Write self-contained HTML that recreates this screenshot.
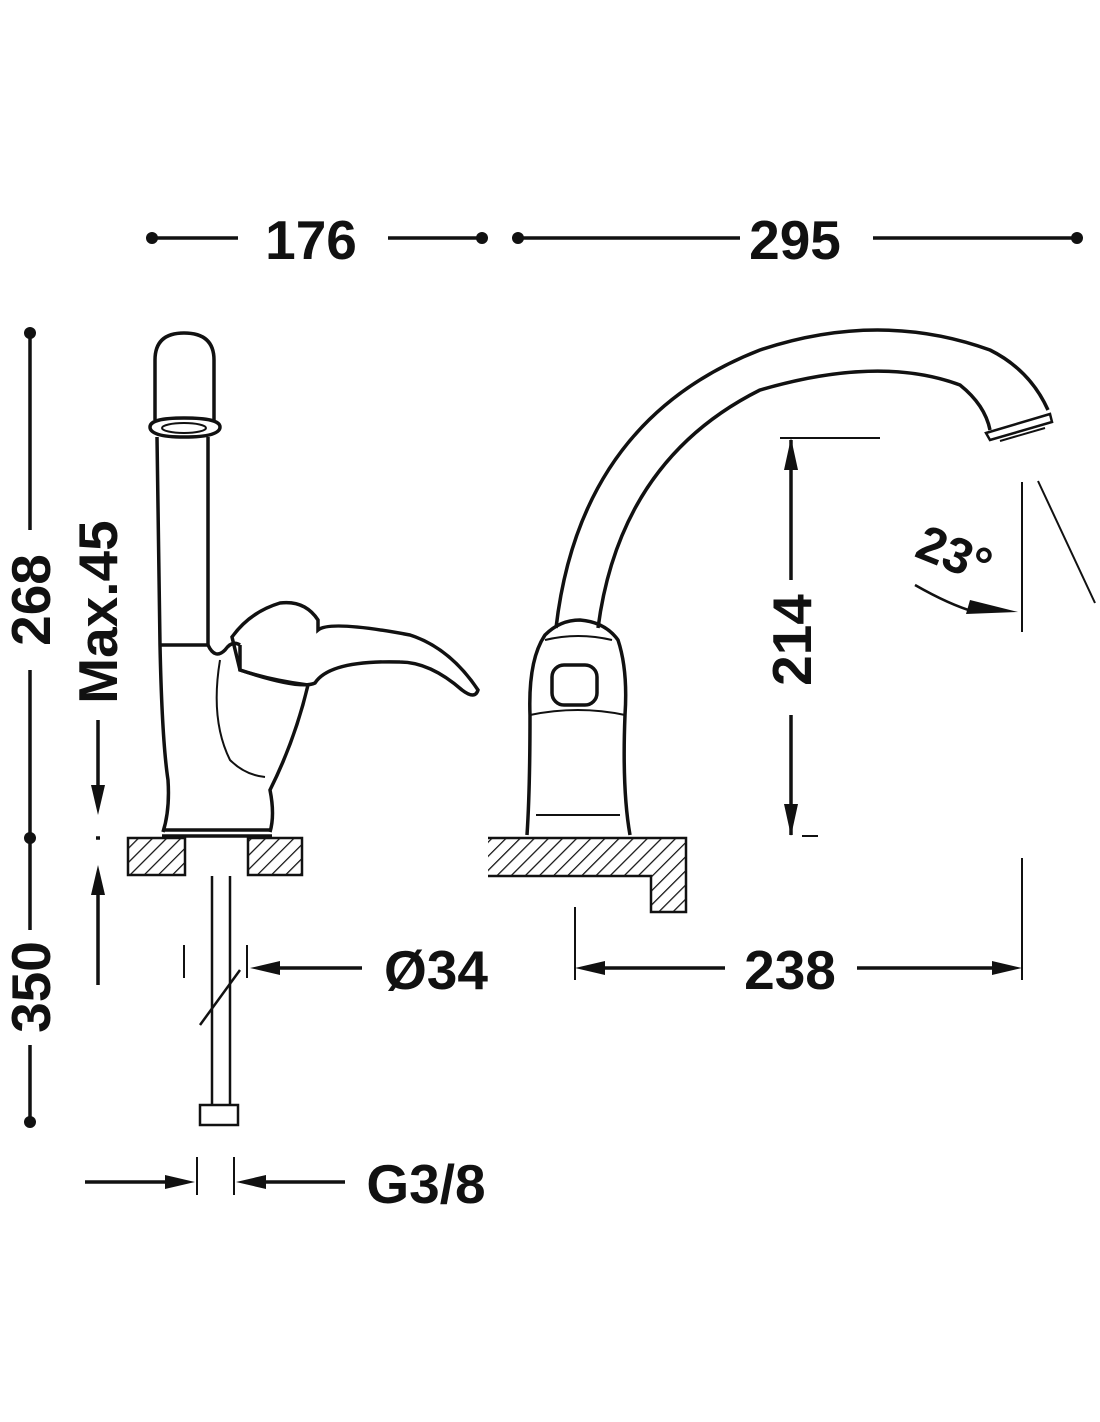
<!DOCTYPE html>
<html><head><meta charset="utf-8"><style>
html,body{margin:0;padding:0;background:#fff}
svg{display:block}
text{font-family:"Liberation Sans",Arial,sans-serif;font-weight:bold;fill:#111}
</style></head><body>
<svg width="1100" height="1422" viewBox="0 0 1100 1422" xmlns="http://www.w3.org/2000/svg">
<defs>
<pattern id="h" width="10" height="10" patternUnits="userSpaceOnUse" patternTransform="rotate(45)">
<rect width="10" height="10" fill="#fff"/><line x1="0" y1="0" x2="0" y2="10" stroke="#111" stroke-width="2.5"/>
</pattern>
</defs>
<g stroke="#111" stroke-width="3.5" fill="none">
<line x1="152" y1="238" x2="238" y2="238"/><line x1="388" y1="238" x2="482" y2="238"/>
<line x1="518" y1="238" x2="740" y2="238"/><line x1="873" y1="238" x2="1077" y2="238"/>
<line x1="30" y1="333" x2="30" y2="530"/><line x1="30" y1="670" x2="30" y2="838"/>
<line x1="30" y1="838" x2="30" y2="930"/><line x1="30" y1="1045" x2="30" y2="1122"/>
<line x1="98" y1="720" x2="98" y2="790"/><line x1="98" y1="895" x2="98" y2="985"/>
<line x1="96" y1="838" x2="100" y2="838"/>
<path d="M155,420 L155,360 Q155,333 184,333 Q214,333 214,360 L214,420"/>
<path d="M150,427 Q150,418 184,418 Q220,418 220,427 Q220,437 184,437 Q150,437 150,427 Z"/>
<ellipse cx="184" cy="428" rx="22" ry="5" stroke-width="2"/>
<path d="M157,437 L160,645 Q162,740 168,780 Q170,810 163,832"/>
<path d="M208,437 L208,645 L160,645"/>
<path d="M208,645 Q215,660 225,650 Q232,640 240,645"/>
<path d="M232,637 Q250,612 280,603 Q305,600 318,620 L318,630 Q330,620 410,635 Q450,648 478,690 Q475,700 462,690 Q430,662 400,662 Q330,660 315,683 Q300,690 240,670 Z"/>
<path d="M240,645 L240,670 Q270,680 308,685 Q295,740 270,790 Q275,815 270,832"/>
<path d="M220,660 Q210,720 230,760 Q245,775 265,777" stroke-width="2"/>
<path d="M165,830 L270,830 M162,836 L272,836"/>
<rect x="128" y="838" width="57" height="37" fill="url(#h)" stroke-width="2.5"/>
<rect x="248" y="838" width="54" height="37" fill="url(#h)" stroke-width="2.5"/>
<line x1="212" y1="876" x2="212" y2="1105" stroke-width="2.5"/><line x1="230" y1="876" x2="230" y2="1105" stroke-width="2.5"/>
<rect x="200" y="1105" width="38" height="20" stroke-width="2.5"/>
<line x1="200" y1="1025" x2="240" y2="970" stroke-width="2.5"/>
<line x1="184" y1="945" x2="184" y2="978" stroke-width="2"/><line x1="247" y1="945" x2="247" y2="978" stroke-width="2"/>
<line x1="270" y1="968" x2="362" y2="968"/>
<line x1="85" y1="1182" x2="180" y2="1182"/><line x1="252" y1="1182" x2="345" y2="1182"/>
<line x1="197" y1="1157" x2="197" y2="1195" stroke-width="2"/><line x1="234" y1="1157" x2="234" y2="1195" stroke-width="2"/>
<path d="M556,628 Q580,420 760,350 Q880,310 990,350 Q1030,370 1048,410"/>
<path d="M598,628 Q620,460 760,390 Q880,355 960,385 Q985,405 990,430"/>
<path d="M986,433 L1050,414 L1052,422 L990,440 Z" stroke-width="2.5"/>
<path d="M1000,441 L1045,428" stroke-width="2"/>
<path d="M527,835 Q530,790 530,715 Q528,660 545,635 Q560,620 580,620 Q605,622 618,640 Q628,670 625,715 Q622,790 630,835"/>
<path d="M545,640 Q578,632 612,640" stroke-width="2"/>
<rect x="552" y="665" width="45" height="40" rx="12"/>
<path d="M530,715 Q578,705 625,715" stroke-width="2"/>
<path d="M536,815 L620,815" stroke-width="2"/>
<path d="M488,838 L686,838 L686,912 L651,912 L651,876 L488,876" fill="url(#h)" stroke-width="2.5"/>
<line x1="780" y1="438" x2="880" y2="438" stroke-width="2"/>
<line x1="791" y1="440" x2="791" y2="580"/><line x1="791" y1="715" x2="791" y2="835"/>
<line x1="802" y1="836" x2="818" y2="836" stroke-width="2"/>
<line x1="1022" y1="482" x2="1022" y2="632" stroke-width="2"/>
<line x1="1038" y1="481" x2="1095" y2="603" stroke-width="2"/>
<path d="M915,585 Q950,605 975,612" stroke-width="2.5"/>
<line x1="575" y1="907" x2="575" y2="980" stroke-width="2"/>
<line x1="1022" y1="858" x2="1022" y2="980" stroke-width="2"/>
<line x1="595" y1="968" x2="725" y2="968"/><line x1="857" y1="968" x2="1002" y2="968"/>
</g>
<g fill="#111">
<circle cx="152" cy="238" r="6"/><circle cx="482" cy="238" r="6"/><circle cx="518" cy="238" r="6"/><circle cx="1077" cy="238" r="6"/>
<circle cx="30" cy="333" r="6"/><circle cx="30" cy="838" r="6"/><circle cx="30" cy="1122" r="6"/>
<polygon points="98,815 91,785 105,785"/><polygon points="98,865 91,895 105,895"/>
<polygon points="250,968 280,961 280,975"/>
<polygon points="195,1182 165,1175 165,1189"/><polygon points="236,1182 266,1175 266,1189"/>
<polygon points="791,438 784,470 798,470"/><polygon points="791,836 784,804 798,804"/>
<polygon points="1018,612 970,600 966,614"/>
<polygon points="575,968 605,961 605,975"/><polygon points="1022,968 992,961 992,975"/>
</g>
<g font-size="55">
<text x="311" y="259" text-anchor="middle">176</text>
<text x="795" y="259" text-anchor="middle">295</text>
<text x="790" y="989" text-anchor="middle">238</text>
<text x="436" y="989" text-anchor="middle">Ø34</text>
<text x="426" y="1203" text-anchor="middle">G3/8</text>
<text transform="translate(50,600) rotate(-90)" text-anchor="middle">268</text>
<text transform="translate(50,987) rotate(-90)" text-anchor="middle">350</text>
<text transform="translate(117,612) rotate(-90)" text-anchor="middle">Max.45</text>
<text transform="translate(811,640) rotate(-90)" text-anchor="middle">214</text>
<text transform="translate(948,570) rotate(22)" text-anchor="middle" font-size="50">23°</text>
</g>
</svg>
</body></html>
